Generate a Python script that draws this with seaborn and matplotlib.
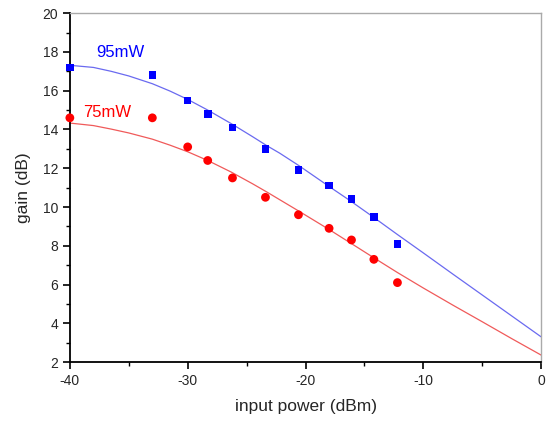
import numpy as np
import pandas as pd
import seaborn as sns
import matplotlib.pyplot as plt
from matplotlib.ticker import MultipleLocator

# measured points
power_in = [-40, -33, -30, -28.3, -26.2, -23.4, -20.6, -18, -16.1, -14.2, -12.2]
gain_95 = [17.2, 16.8, 15.5, 14.8, 14.1, 13.0, 11.9, 11.1, 10.4, 9.5, 8.1]
gain_75 = [14.6, 14.6, 13.1, 12.4, 11.5, 10.5, 9.6, 8.9, 8.3, 7.3, 6.1]

# fitted curves
fit_x = [-40, -38, -36.5, -35, -33, -31.5, -30, -28.3, -26.3, -24.5, -23.3,
         -22.2, -20.6, -18, -16.2, -14.2, -12.2, -10, -7.5, -5, -2.5, 0]
fit_95 = [17.31, 17.2, 17.0, 16.76, 16.36, 15.98, 15.55, 15.0, 14.3, 13.63, 13.17,
          12.78, 12.15, 11.06, 10.32, 9.46, 8.58, 7.63, 6.54, 5.46, 4.38, 3.3]
fit_75 = [14.33, 14.2, 14.02, 13.82, 13.5, 13.19, 12.85, 12.4, 11.8, 11.2, 10.78,
          10.38, 9.8, 8.84, 8.15, 7.38, 6.62, 5.82, 4.94, 4.08, 3.21, 2.36]

sns.set_style("ticks")
plt.rcParams['font.family'] = ['Liberation Sans', 'DejaVu Sans']
plt.rcParams['axes.unicode_minus'] = False

pts = pd.DataFrame({"x": power_in, "g95": gain_95, "g75": gain_75})
fit = pd.DataFrame({"x": fit_x, "f95": fit_95, "f75": fit_75})

fig = plt.figure(figsize=(5.5, 4.24), dpi=100)
ax = fig.add_axes([0.127, 0.146, 0.857, 0.823])

sns.lineplot(data=fit, x="x", y="f95", color="#6a6af0", lw=0.9, ax=ax)
sns.lineplot(data=fit, x="x", y="f75", color="#f05a5a", lw=0.9, ax=ax)
sns.scatterplot(data=pts, x="x", y="g95", marker="s", color="#0000ff", s=30,
                edgecolor="none", ax=ax, clip_on=False, zorder=5)
sns.scatterplot(data=pts, x="x", y="g75", marker="o", color="#ff0000", s=40,
                edgecolor="none", ax=ax, clip_on=False, zorder=5)

ax.text(-37.8, 17.74, "95mW", color="#0000ff", fontsize=12)
ax.text(-38.9, 14.64, "75mW", color="#ff0000", fontsize=12)

ax.set_xlim(-40, 0)
ax.set_ylim(2, 20)
ax.xaxis.set_major_locator(MultipleLocator(10))
ax.xaxis.set_minor_locator(MultipleLocator(5))
ax.yaxis.set_major_locator(MultipleLocator(2))
ax.yaxis.set_minor_locator(MultipleLocator(1))
ax.tick_params(which="major", length=5, width=1.2, labelsize=10, color="black")
ax.tick_params(which="minor", length=3, width=1.0, color="black")

for side in ["top", "right"]:
    ax.spines[side].set_color("#aaaaaa")
    ax.spines[side].set_linewidth(1.0)
for side in ["left", "bottom"]:
    ax.spines[side].set_color("black")
    ax.spines[side].set_linewidth(1.3)

ax.set_xlabel("input power (dBm)", fontsize=12.5, labelpad=8)
ax.set_ylabel("gain (dB)", fontsize=12.5, labelpad=8)

fig.savefig("out.png", dpi=100)
